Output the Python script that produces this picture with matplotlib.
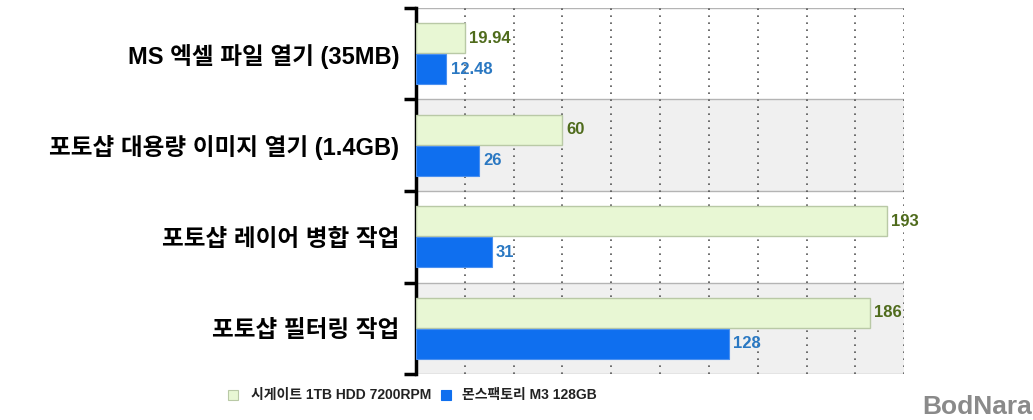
import matplotlib
matplotlib.use("Agg")
import matplotlib.pyplot as plt
from matplotlib.patches import Rectangle
from matplotlib.ticker import FixedLocator

plt.rcParams['font.family'] = ['Liberation Sans', 'Noto Sans CJK KR', 'DejaVu Sans']

categories = ["MS 엑셀 파일 열기 (35MB)", "포토샵 대용량 이미지 열기 (1.4GB)",
              "포토샵 레이어 병합 작업", "포토샵 필터링 작업"]
hdd_values = [19.94, 60, 193, 186]
ssd_values = [12.48, 26, 31, 128]
hdd_labels = ["19.94", "60", "193", "186"]
ssd_labels = ["12.48", "26", "31", "128"]
series_names = ["시게이트 1TB HDD 7200RPM", "몬스팩토리 M3 128GB"]

hdd_color = "#e8f7d4"
hdd_edge = "#b9c9a6"
ssd_color = "#0f6fef"
hdd_text = "#4f6b1c"
ssd_text = "#2a78c2"

fig = plt.figure(figsize=(10.33, 4.2), dpi=100)
ax = fig.add_axes([0.4027, 0.1095, 0.4727, 0.8715])

n = len(categories)
ax.set_xlim(0, 200)
ax.set_ylim(n - 0.5, -0.5)

# alternating bands
for i in range(n):
    ax.axhspan(i - 0.5, i + 0.5, color="#ffffff" if i % 2 == 0 else "#f0f0f0", zorder=0, lw=0)
    ax.axhline(i - 0.5, color="#b4b4b4", lw=1.0, zorder=1)
ax.axhline(n - 0.5, color="#b4b4b4", lw=1.0, zorder=1)

# dotted vertical grid
for gx in range(20, 201, 20):
    ax.axvline(gx, color="#555555", lw=1.2, ls=(0, (1, 3.2)), zorder=1)

off = 0.17
h = 0.33
ys = list(range(n))
ax.barh([y - off for y in ys], hdd_values, height=h, color=hdd_color,
        edgecolor=hdd_edge, lw=1.0, zorder=3)
ax.barh([y + off for y in ys], ssd_values, height=h, color=ssd_color,
        edgecolor="#4a90f0", lw=0.8, zorder=3)

for y, v, t in zip(ys, hdd_values, hdd_labels):
    ax.annotate(t, (v, y - off), xytext=(3, 0), textcoords="offset points",
                va="center", ha="left", fontsize=12, fontweight="bold",
                color=hdd_text, zorder=4, annotation_clip=False)
for y, v, t in zip(ys, ssd_values, ssd_labels):
    ax.annotate(t, (v, y + off), xytext=(3, 0), textcoords="offset points",
                va="center", ha="left", fontsize=12, fontweight="bold",
                color=ssd_text, zorder=4, annotation_clip=False)

for s in ["top", "right", "bottom"]:
    ax.spines[s].set_visible(False)
ax.spines["left"].set_linewidth(2.5)
ax.spines["left"].set_color("black")

ax.set_xticks([])
ax.yaxis.set_major_locator(FixedLocator([i - 0.5 for i in range(n + 1)]))
ax.set_yticklabels([""] * (n + 1))
ax.set_yticks(ys, minor=True)
ax.set_yticklabels(categories, minor=True, fontsize=17, fontweight="bold")
ax.tick_params(axis="y", which="major", length=9, width=2.5, color="black")
ax.tick_params(axis="y", which="minor", length=0, pad=12)

# legend
fig.patches.append(Rectangle((0.2207, 0.048), 0.0097, 0.024, transform=fig.transFigure,
                             facecolor=hdd_color, edgecolor=hdd_edge, lw=0.8))
fig.text(0.2425, 0.06, series_names[0], fontsize=10, fontweight="bold",
         va="center", ha="left", color="#222222")
fig.patches.append(Rectangle((0.427, 0.048), 0.0097, 0.024, transform=fig.transFigure,
                             facecolor=ssd_color, edgecolor=ssd_color, lw=0.8))
fig.text(0.4475, 0.06, series_names[1], fontsize=10, fontweight="bold",
         va="center", ha="left", color="#222222")

fig.text(0.893, 0.03, "BodNara", fontsize=19, fontweight="bold",
         va="center", ha="left", color="#8a8a8a")

fig.savefig("out.png", dpi=100)
